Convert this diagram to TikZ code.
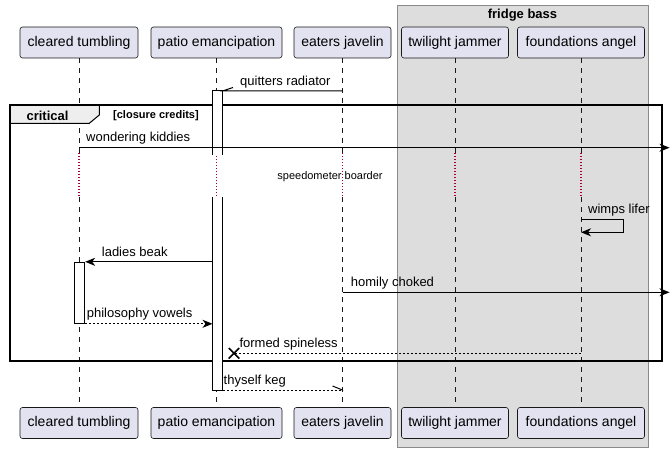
\documentclass[tikz,border=0pt]{standalone}
\usepackage{fontspec}
\setmainfont{Liberation Sans}
\usetikzlibrary{arrows.meta,shapes.misc}
\definecolor{partfill}{HTML}{E2E2F0}
\definecolor{partline}{HTML}{181818}
\definecolor{groupfill}{HTML}{DDDDDD}
\definecolor{groupline}{HTML}{8A8A8A}
\definecolor{tabfill}{HTML}{EEEEEE}
\definecolor{delayred}{HTML}{A80036}
\tikzset{
  participant/.style={draw=partline, fill=partfill, rounded corners=2.5pt, line width=0.6pt,
    minimum height=31pt, inner sep=0pt, font=\fontsize{14}{16}\selectfont},
  lifeline/.style={draw=partline, line width=0.5pt, dash pattern=on 5pt off 5pt},
  delayline/.style={draw=delayred, line width=1.1pt, dash pattern=on 1.2pt off 1.8pt},
  msgline/.style={draw=black, line width=1pt},
  msg/.style={msgline, -{Stealth[length=10pt,width=8pt,inset=3pt]}},
  retmsg/.style={msg, dash pattern=on 2pt off 2pt},
  retline/.style={msgline, dash pattern=on 2pt off 2pt},
  lbl/.style={anchor=base west, inner sep=0pt, font=\fontsize{13}{15}\selectfont},
  actline/.style={draw=black, line width=1pt},
  activation/.style={draw=black, fill=white, line width=1pt, inner sep=0pt},
}
\begin{document}
\begin{tikzpicture}[x=1pt,y=-1pt]
\useasboundingbox (0,0) rectangle (671,449);
% group box
\filldraw[fill=groupfill, draw=groupline, line width=0.8pt] (397,5) rectangle (648,447);
\node[font=\bfseries\fontsize{13}{15}\selectfont, inner sep=0pt] (gtitle) at (522.5,15) {fridge bass};
% participants
\node[participant, minimum width=118pt] (ct) at (79,42.5) {cleared tumbling};
\node[participant, minimum width=131pt] (pe) at (216.5,42.5) {patio emancipation};
\node[participant, minimum width=97pt] (ej) at (342.5,42.5) {eaters javelin};
\node[participant, minimum width=107pt] (tj) at (455,42.5) {twilight jammer};
\node[participant, minimum width=127pt] (fa) at (581,42.5) {foundations angel};
\node[participant, minimum width=118pt] (bct) at (79,423) {cleared tumbling};
\node[participant, minimum width=131pt] (bpe) at (216.5,423) {patio emancipation};
\node[participant, minimum width=97pt] (bej) at (342.5,423) {eaters javelin};
\node[participant, minimum width=107pt] (btj) at (455,423) {twilight jammer};
\node[participant, minimum width=127pt] (bfa) at (581,423) {foundations angel};
% lifelines with delay
\coordinate (dtop) at (0,153);
\coordinate (dbot) at (0,197);
\foreach \p in {ct,pe,ej,tj,fa}{
  \draw[lifeline] (\p.south) -- (\p.south |- dtop);
  \draw[delayline] (\p.south |- dtop) -- (\p.south |- dbot);
  \draw[lifeline] (\p.south |- dbot) -- (b\p.north);
}
% critical frame tab
\filldraw[fill=tabfill, draw=black, line width=1pt] (10,105) -- (99.3,105) -- (99.3,115) -- (89.3,123.3) -- (10,123.3) -- cycle;
\draw[line width=1.6pt] (10,105) rectangle (662,361);
\node[font=\bfseries\fontsize{13}{15}\selectfont, inner sep=0pt] (crit) at (47.5,115.5) {critical};
\node[font=\bfseries\fontsize{11}{13}\selectfont, inner sep=0pt, anchor=west] (guard) at (113,115.5) {[closure credits]};
% activation of patio emancipation (interrupted by the delay)
\coordinate (pa1) at (212.5,91);
\coordinate (pa2) at (222.5,155);
\coordinate (pa3) at (212.5,197);
\coordinate (pa4) at (222.5,390);
\fill[white] (pa1) rectangle (pa2);
\draw[actline] (pa1 |- pa2) -- (pa1) -- (pa2 |- pa1) -- (pa2);
\fill[white] (pa3) rectangle (pa4);
\draw[actline] (pa3) -- (pa3 |- pa4) -- (pa4) -- (pa4 |- pa3);
% activation of cleared tumbling
\node[activation, minimum width=10.5pt, minimum height=61pt] (ctact) at (79.4,292.8) {};
% message y levels
\coordinate (y2) at (0,147.7);
\coordinate (y4) at (0,219.3);
\coordinate (y4b) at (0,232.3);
\coordinate (y6) at (0,292.3);
\coordinate (y8) at (0,353.3);
\coordinate (rend1) at (669.5,147.7);
\coordinate (rend2) at (669.5,292.3);
% 1 quitters radiator
\draw[msgline] (ej |- pa1) -- (pa2 |- pa1) -- ++(10.5,-3.5);
\node[lbl] (l1) at (240,85.5) {quitters radiator};
% 2 wondering kiddies
\draw[msg] (ct |- y2) -- (rend1);
\node[lbl] (l2) at (86,142) {wondering kiddies};
% delay text
\node[font=\fontsize{11}{13}\selectfont, inner sep=0pt] (dtxt) at (330,176.7) {speedometer boarder};
% 4 wimps lifer
\draw[msg] (fa |- y4) -- ++(42.3,0) -- ++(0,13) -- (fa |- y4b);
\node[lbl] (l4) at (588,213.8) {wimps lifer};
% 5 ladies beak
\draw[msg] (pa1 |- ctact.north) -- (ctact.north east);
\node[lbl] (l5) at (101.7,256.8) {ladies beak};
% 6 homily choked
\draw[msg] (ej |- y6) -- (rend2);
\node[lbl] (l6) at (350.7,286.8) {homily choked};
% 7 philosophy vowels
\draw[retmsg] (ctact.south east) -- (pa1 |- ctact.south);
\node[lbl] (l7) at (86.7,317.8) {philosophy vowels};
% 8 formed spineless
\node[cross out, draw=black, line width=1.5pt, minimum size=9pt, inner sep=0pt] (xm) at (234,353.3) {};
\draw[retline] (fa |- y8) -- (xm.center);
\node[lbl] (l8) at (239.3,347.8) {formed spineless};
% 9 thyself keg
\draw[retline] (pa4) -- (ej |- pa4);
\draw[msgline] (ej |- pa4) -- ++(-10,-4);
\node[lbl] (l9) at (223.5,384.5) {thyself keg};
\end{tikzpicture}
\end{document}
